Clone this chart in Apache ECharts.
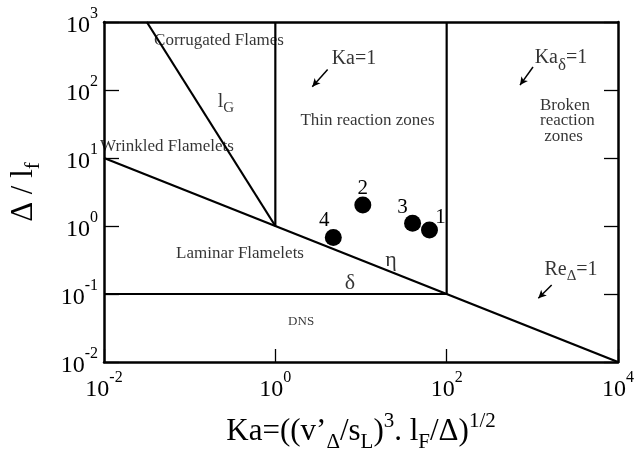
<!DOCTYPE html>
<html>
<head>
<meta charset="utf-8">
<script src="https://cdn.jsdelivr.net/npm/echarts@6/dist/echarts.min.js"></script>
<style>html,body{margin:0;padding:0;background:#fff}#c{width:636px;height:460px}</style>
</head>
<body>
<div id="c"></div>
<script>
// ---- data ----
const xMin = 0.01, xMax = 10000;
const yMin = 0.01, yMax = 1000;
// regime boundary lines [[x1, y1], [x2, y2]]
const etaLine = [[0.01, 10], [10000, 0.01]];
const lGLine = [[0.0316, 1000], [1, 1]];
const kaOneLine = [[1, 1], [1, 1000]];
const kaDeltaLine = [[100, 0.1], [100, 1000]];
const deltaLine = [[0.01, 0.1], [100, 0.1]];
// simulation points
const pointNames = ['1', '2', '3', '4'];
const pointKa = [63, 10.5, 40, 4.75];
const pointDelta = [0.87, 2.04, 1.1, 0.68];
// annotation texts and their anchor in data space
const annoText = ['Corrugated Flames', 'lG', 'Wrinkled Flamelets', 'Ka=1', 'Thin reaction zones',
  'Ka_delta=1', 'Broken\nreaction\nzones', 'Laminar Flamelets', 'η', 'δ', 'DNS', 'Re_Delta=1'];
const annoX = [0.22, 0.265, 0.0543, 8.28, 11.9, 2160, 1228, 0.387, 22.4, 7.43, 2.0, 2826];
const annoY = [543, 66.7, 14.5, 286, 35, 296, 35, 0.40, 0.316, 0.145, 0.039, 0.225];
// arrows [from, to]
const arrowFrom = [[4.08, 201], [1018, 218], [1682, 0.1356]];
const arrowTo = [[2.70, 112], [718, 118], [1175, 0.0865]];

// ---- styles ----
const FONT = "'Liberation Serif', 'Times New Roman', serif";
const pointLabelOffsets = [[11, -13], [0, -16], [-10, -16], [-9, -17]];
const richAll = {
  b: { fontFamily: FONT, fontSize: 20, color: '#000', lineHeight: 28, verticalAlign: 'middle' },
  s: { fontFamily: FONT, fontSize: 17, color: '#000', lineHeight: 18, verticalAlign: 'middle' },
  sub: { fontFamily: FONT, fontSize: 15, color: '#000', padding: [12, 0, 0, 0], lineHeight: 28 },
  subd: { fontFamily: FONT, fontSize: 17, color: '#000', padding: [16, 0, 0, 0], lineHeight: 28 },
  t: { fontFamily: FONT, fontSize: 17, color: '#000', lineHeight: 15.5, align: 'left' },
  d: { fontFamily: FONT, fontSize: 13, color: '#000' },
  e: { fontFamily: FONT, fontSize: 22, color: '#000' }
};
const annoFormat = {
  'Corrugated Flames': '{s|Corrugated Flames}',
  'lG': '{b|l}{sub|G}',
  'Wrinkled Flamelets': '{s|Wrinkled Flamelets}',
  'Ka=1': '{b|Ka=1}',
  'Thin reaction zones': '{s|Thin reaction zones}',
  'Ka_delta=1': '{b|Ka}{subd|δ}{b|=1}',
  'Broken\nreaction\nzones': '{t|Broken}\n{t|reaction}\n{t| zones}',
  'Laminar Flamelets': '{s|Laminar Flamelets}',
  'η': '{e|η}',
  'δ': '{e|δ}',
  'DNS': '{d|DNS}',
  'Re_Delta=1': '{b|Re}{sub|Δ}{b|=1}'
};

function lineSeries(pts) {
  return {
    type: 'line', data: pts, symbol: 'none', silent: true, z: 3,
    lineStyle: { color: '#000', width: 2.2 }, animation: false
  };
}

const tickRich = {
  b: { fontFamily: FONT, fontSize: 24, color: '#000', lineHeight: 32, verticalAlign: 'bottom', padding: [10, 0, 0, 0] },
  s: { fontFamily: FONT, fontSize: 16, color: '#000', lineHeight: 32, verticalAlign: 'top', padding: [0, 0, 12, 0] }
};
const yTickRich = {
  b: { fontFamily: FONT, fontSize: 24, color: '#000', lineHeight: 32, verticalAlign: 'bottom', padding: [14, 0, 0, 0] },
  s: { fontFamily: FONT, fontSize: 16, color: '#000', lineHeight: 32, verticalAlign: 'top', padding: [0, 0, 14, 0] }
};
function tickFmt(v) {
  const e = Math.round(Math.log10(v));
  return '{b|10}{s|' + e + '}';
}

const series = [
  lineSeries(etaLine), lineSeries(lGLine), lineSeries(kaOneLine),
  lineSeries(kaDeltaLine), lineSeries(deltaLine),
  {
    type: 'scatter', z: 5, symbolSize: 17, itemStyle: { color: '#000', opacity: 1 }, animation: false,
    data: pointNames.map((n, i) => ({
      name: n, value: [pointKa[i], pointDelta[i]],
      label: { show: true, position: 'inside', offset: pointLabelOffsets[i], formatter: n,
        fontFamily: FONT, fontSize: 21, color: '#000' }
    })),
    label: { show: true }
  },
  {
    type: 'scatter', z: 6, symbolSize: 0, silent: true, animation: false,
    data: annoText.map((t, i) => ({
      name: t, value: [annoX[i], annoY[i]],
      label: { show: true, position: 'inside', formatter: annoFormat[t], rich: richAll,
        align: t.indexOf('Broken') === 0 ? 'left' : 'center' }
    }))
  },
  {
    type: 'line', data: [], silent: true, animation: false,
    markLine: {
      silent: true, symbol: ['none', 'arrow'], symbolSize: [6, 8], label: { show: false },
      lineStyle: { color: '#000', width: 1.5, type: 'solid' },
      data: arrowFrom.map((f, i) => [{ coord: f }, { coord: arrowTo[i] }])
    }
  }
];

const chart = echarts.init(document.getElementById('c'), null, { renderer: 'canvas' });
chart.setOption({
  backgroundColor: '#fff',
  animation: false,
  grid: { left: 104, right: 18, top: 22, bottom: 98, containLabel: false, outerBoundsMode: 'none' },
  xAxis: [{
    type: 'log', logBase: 10, min: xMin, max: xMax, interval: 2, position: 'bottom',
    axisLine: { show: true, onZero: false, lineStyle: { color: '#000', width: 2.5 } },
    axisTick: { show: true, inside: true, length: 13, lineStyle: { color: '#000', width: 1.3 } },
    splitLine: { show: false }, minorTick: { show: false },
    axisLabel: { formatter: tickFmt, rich: tickRich, margin: 8 },
    name: '{b|Ka=((v’}{sub|Δ}{b|/s}{sub|L}{b|)}{sup|3}{b|. l}{sub|F}{b|/Δ)}{sup|1/2}',
    nameLocation: 'middle', nameGap: 49,
    nameTextStyle: {
      rich: {
        b: { fontFamily: FONT, fontSize: 31, color: '#000', lineHeight: 42, verticalAlign: 'middle' },
        sub: { fontFamily: FONT, fontSize: 21, color: '#000', lineHeight: 42, verticalAlign: 'bottom' },
        sup: { fontFamily: FONT, fontSize: 21, color: '#000', lineHeight: 42, verticalAlign: 'top' }
      }
    }
  }, {
    type: 'log', logBase: 10, min: xMin, max: xMax, interval: 2, position: 'top',
    axisLine: { show: true, onZero: false, lineStyle: { color: '#000', width: 2.5 } },
    axisTick: { show: false }, axisLabel: { show: false }, splitLine: { show: false }
  }],
  yAxis: [{
    type: 'log', logBase: 10, min: yMin, max: yMax, interval: 1, position: 'left',
    axisLine: { show: true, onZero: false, lineStyle: { color: '#000', width: 2.5 } },
    axisTick: { show: true, inside: true, length: 15, lineStyle: { color: '#000', width: 1.3 } },
    splitLine: { show: false }, minorTick: { show: false },
    axisLabel: { formatter: tickFmt, rich: yTickRich, margin: 6 },
    name: '{b|Δ / l}{sub|f}', nameLocation: 'middle', nameGap: 60,
    nameTextStyle: {
      rich: {
        b: { fontFamily: FONT, fontSize: 31, color: '#000', lineHeight: 40, verticalAlign: 'middle' },
        sub: { fontFamily: FONT, fontSize: 21, color: '#000', lineHeight: 40, verticalAlign: 'bottom' }
      }
    }
  }, {
    type: 'log', logBase: 10, min: yMin, max: yMax, interval: 1, position: 'right',
    axisLine: { show: true, onZero: false, lineStyle: { color: '#000', width: 2.5 } },
    axisTick: { show: true, inside: true, length: 14, lineStyle: { color: '#000', width: 1.3 } },
    axisLabel: { show: false }, splitLine: { show: false }
  }],
  series: series
});
</script>
</body>
</html>
